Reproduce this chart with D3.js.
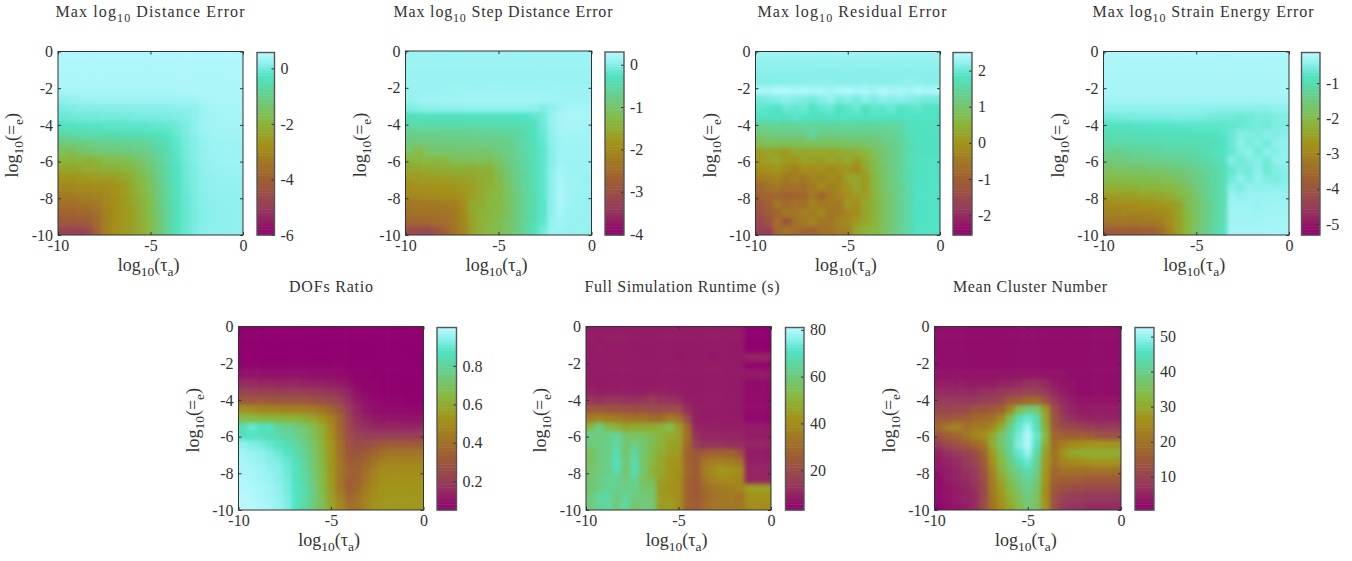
<!DOCTYPE html>
<meta charset="utf-8">
<style>
  body { margin: 0; background: #fff; }
  svg { display: block; font-family: 'Liberation Serif', serif; }
  .tick text { font-size: 16px; fill: #333; font-family: 'Liberation Serif', serif; }
  .tick line { stroke: #333; }
  .domain { display: none; }
  .title { font-size: 16px; fill: #333; }
  .lab { font-size: 18px; fill: #333; }
</style>
<script src="https://d3js.org/d3.v7.min.js"></script>
<div id="chart"></div>
<script>
// rows run from log10(e)=0 down to -10, columns from log10(tau)=-10 to 0
const tauCats = d3.range(21).map(i => -10 + i * 0.5);
const epsCats = d3.range(21).map(i => -i * 0.5);
const xTicks = [-10, -5, 0];
const yTicks = [0, -2, -4, -6, -8, -10];

const distanceError = [
[.5,.5,.5,.5,.5,.5,.5,.5,.5,.5,.5,.5,.5,.5,.5,.5,.5,.5,.5,.5,.5],
[.48,.48,.48,.48,.48,.48,.48,.48,.48,.48,.48,.48,.48,.48,.48,.48,.48,.48,.48,.48,.48],
[.47,.47,.47,.47,.47,.47,.47,.47,.47,.47,.47,.47,.47,.47,.47,.47,.47,.47,.47,.47,.47],
[.46,.46,.46,.46,.46,.46,.46,.46,.46,.46,.46,.46,.46,.46,.46,.46,.46,.46,.46,.46,.46],
[.4,.42,.43,.43,.44,.44,.44,.44,.44,.44,.44,.44,.44,.44,.45,.45,.46,.46,.46,.46,.46],
[.2,.25,.28,.3,.32,.33,.33,.34,.34,.34,.34,.34,.34,.34,.35,.38,.42,.44,.45,.45,.45],
[.05,.08,.1,.1,.1,.12,.12,.13,.14,.14,.15,.15,.15,.16,.18,.2,.33,.4,.42,.42,.42],
[-.08,-.05,-.04,-.03,-.02,0,0,0,.02,.02,.03,.03,.05,.08,.12,.2,.3,.38,.4,.4,.4],
[-.3,-.28,-.25,-.25,-.25,-.22,-.22,-.2,-.2,-.2,-.18,-.15,-.12,-.05,.05,.18,.3,.37,.38,.38,.38],
[-.7,-.65,-.6,-.55,-.55,-.5,-.5,-.48,-.45,-.45,-.4,-.35,-.25,-.12,.02,.15,.28,.35,.36,.36,.36],
[-1.2,-1.15,-1.1,-1.05,-1,-.95,-.95,-.9,-.9,-.85,-.75,-.6,-.4,-.18,0,.13,.25,.32,.33,.33,.33],
[-1.6,-1.7,-1.5,-1.4,-1.3,-1.3,-1.25,-1.2,-1.15,-1.1,-.95,-.75,-.5,-.22,-.02,.12,.23,.3,.32,.32,.32],
[-2,-2.1,-2,-2.1,-2,-1.8,-1.8,-1.7,-1.6,-1.4,-1.15,-.85,-.55,-.25,-.05,.1,.22,.28,.3,.3,.3],
[-2.3,-2.3,-2.3,-2.2,-2.2,-2.1,-2.1,-2,-1.9,-1.6,-1.3,-.95,-.6,-.28,-.06,.08,.2,.26,.28,.28,.28],
[-2.7,-2.7,-2.6,-2.6,-2.55,-2.5,-2.45,-2.35,-2.1,-1.8,-1.45,-1.05,-.65,-.3,-.08,.07,.18,.24,.26,.26,.26],
[-3,-3,-2.9,-2.9,-2.85,-2.8,-2.7,-2.5,-2.2,-1.9,-1.55,-1.1,-.7,-.32,-.1,.06,.16,.22,.24,.24,.24],
[-3.3,-3.3,-3.2,-3.2,-3.15,-3,-2.8,-2.55,-2.3,-2,-1.65,-1.15,-.72,-.35,-.12,.05,.15,.2,.22,.22,.22],
[-3.6,-3.6,-3.5,-3.5,-3.35,-3,-2.85,-2.6,-2.35,-2.05,-1.7,-1.2,-.75,-.38,-.13,.04,.14,.18,.2,.2,.2],
[-3.9,-3.9,-3.85,-3.8,-3.6,-3.1,-2.85,-2.6,-2.4,-2.1,-1.75,-1.25,-.78,-.4,-.14,.03,.13,.17,.2,.2,.2],
[-4.2,-4.2,-4.15,-4.1,-3.7,-3.15,-2.85,-2.6,-2.4,-2.15,-1.8,-1.3,-.8,-.4,-.14,.03,.14,.18,.2,.2,.2],
[-4.8,-4.85,-4.85,-4.6,-3.9,-3.15,-2.8,-2.55,-2.4,-2.15,-1.8,-1.3,-.8,-.4,-.12,.04,.15,.19,.2,.2,.2]];

const stepError = [
[.14,.14,.14,.14,.14,.14,.14,.14,.14,.14,.14,.14,.14,.14,.14,.14,.14,.14,.14,.14,.14],
[.13,.13,.13,.13,.13,.13,.13,.13,.13,.13,.13,.13,.13,.13,.13,.13,.13,.13,.13,.13,.13],
[.12,.12,.12,.12,.12,.12,.12,.12,.12,.12,.12,.12,.12,.12,.12,.12,.12,.12,.12,.12,.12],
[.12,.12,.12,.12,.12,.12,.12,.12,.12,.12,.12,.12,.12,.12,.12,.12,.12,.12,.12,.12,.12],
[.1,.11,.12,.12,.13,.13,.13,.13,.13,.14,.14,.14,.14,.14,.14,.14,.14,.14,.14,.14,.14],
[.1,.12,.15,.15,.16,.16,.17,.18,.18,.18,.18,.18,.18,.18,.18,.17,.15,.15,.14,.14,.14],
[-.02,.02,.05,.05,.06,.07,.07,.08,.08,.08,.08,.08,.08,.08,.06,-.02,.05,.14,.2,.2,.18],
[-.35,-.33,-.32,-.3,-.3,-.3,-.3,-.28,-.28,-.28,-.27,-.27,-.27,-.25,-.2,-.1,.1,.2,.22,.22,.2],
[-.5,-.5,-.5,-.5,-.48,-.48,-.48,-.48,-.46,-.46,-.46,-.45,-.42,-.38,-.3,-.12,.08,.18,.2,.2,.18],
[-.75,-.75,-.72,-.72,-.7,-.7,-.7,-.68,-.68,-.66,-.66,-.62,-.56,-.45,-.32,-.15,.05,.17,.18,.18,.16],
[-.9,-.9,-.88,-.85,-.85,-.85,-.82,-.82,-.8,-.8,-.78,-.72,-.62,-.48,-.34,-.18,.03,.15,.16,.16,.15],
[-1.05,-1.3,-1.05,-1,-1,-.98,-.98,-.95,-1.05,-.95,-.88,-.78,-.65,-.5,-.36,-.2,.02,.14,.15,.15,.14],
[-1.35,-1.35,-1.3,-1.35,-1.3,-1.2,-1.15,-1.15,-1.1,-1.2,-1,-.85,-.7,-.52,-.38,-.2,.02,.15,.14,.14,.13],
[-1.6,-1.6,-1.55,-1.5,-1.5,-1.45,-1.45,-1.5,-1.45,-1.45,-1.15,-.92,-.75,-.55,-.38,-.2,.03,.18,.14,.13,.13],
[-1.75,-1.75,-1.7,-1.7,-1.65,-1.65,-1.65,-1.6,-1.5,-1.5,-1.25,-1,-.78,-.58,-.4,-.2,.05,.2,.14,.13,.12],
[-1.95,-1.9,-1.9,-1.85,-1.85,-1.8,-1.75,-1.7,-1.55,-1.45,-1.3,-1.05,-.82,-.6,-.4,-.2,.05,.22,.15,.13,.12],
[-2.05,-2.05,-2,-2,-1.95,-1.95,-1.85,-1.7,-1.55,-1.4,-1.3,-1.08,-.85,-.62,-.42,-.22,.05,.24,.15,.12,.12],
[-2.3,-2.3,-2.25,-2.25,-2.2,-2.2,-1.95,-1.55,-1.5,-1.35,-1.3,-1.1,-.85,-.62,-.42,-.22,.05,.22,.14,.12,.12],
[-2.4,-2.4,-2.4,-2.35,-2.35,-2.25,-2.05,-1.6,-1.45,-1.35,-1.25,-1.1,-.85,-.62,-.42,-.22,.05,.2,.12,.12,.11],
[-2.6,-2.6,-2.55,-2.5,-2.45,-2.3,-2.05,-1.65,-1.45,-1.35,-1.2,-1.05,-.85,-.6,-.4,-.2,.08,.15,.11,.11,.1],
[-3.1,-3.15,-3.15,-2.95,-2.7,-2.4,-2.1,-1.65,-1.45,-1.3,-1.2,-1.05,-.85,-.6,-.35,-.1,.12,.12,.1,.1,.1]];

const residualError = [
[2.3,2.3,2.3,2.3,2.3,2.3,2.3,2.3,2.3,2.3,2.3,2.3,2.3,2.3,2.3,2.3,2.3,2.3,2.3,2.3,2.3],
[2.22,2.22,2.22,2.22,2.22,2.22,2.22,2.22,2.22,2.22,2.22,2.22,2.22,2.22,2.22,2.22,2.22,2.22,2.22,2.22,2.22],
[2.18,2.18,2.18,2.18,2.18,2.18,2.18,2.18,2.18,2.18,2.18,2.18,2.18,2.18,2.18,2.18,2.18,2.18,2.18,2.18,2.18],
[2.15,2.15,2.16,2.16,2.18,2.18,2.2,2.2,2.2,2.18,2.18,2.18,2.2,2.18,2.18,2.18,2.2,2.25,2.2,2.18,2.18],
[2.42,2.4,2.48,2.45,2.42,2.45,2.4,2.42,2.35,2.42,2.45,2.4,2.42,2.35,2.45,2.4,2.42,2.35,2.45,2.4,2.45],
[2.05,2.1,2.15,2.2,2.15,2.1,2.05,2.15,2.25,2.1,2.15,2.05,2.2,2.1,2.2,2.15,2.2,2.15,2.1,2.05,2.05],
[1.95,1.9,1.85,2,1.95,2,1.85,1.95,2,1.85,1.9,2,1.75,1.95,1.9,2,1.85,1.9,1.95,1.85,1.85],
[1.8,1.85,1.85,1.8,1.9,1.85,1.85,1.8,1.85,1.85,1.85,1.85,1.85,1.85,1.85,1.8,1.85,1.85,1.85,1.85,1.85],
[1.35,1.4,1.45,1.4,1.45,1.5,1.45,1.45,1.5,1.45,1.5,1.5,1.45,1.5,1.5,1.5,1.55,1.75,1.8,1.8,1.8],
[1.1,1.15,1.2,1.2,1.2,1.2,1.5,1.2,1.2,1.25,1.25,1.25,1.25,1.25,1.3,1.35,1.5,1.7,1.8,1.8,1.8],
[.75,.85,.85,.85,.85,.85,.9,.9,.9,.9,.95,.95,1,1.05,1.15,1.25,1.45,1.65,1.8,1.8,1.8],
[.15,.25,.2,.1,.35,.3,.3,.35,.3,.35,.4,.45,.6,.85,1.05,1.2,1.4,1.65,1.8,1.8,1.8],
[.05,.15,.3,.1,0,.2,.15,.1,.25,.15,.35,.1,.4,.7,1,1.2,1.4,1.65,1.8,1.85,1.85],
[-.15,-.05,0,-.2,-.35,-.1,-.15,-.05,-.2,-.05,0,-.2,.3,.65,.95,1.15,1.4,1.65,1.85,1.85,1.85],
[-.45,-.4,-.3,-.5,-.4,-.5,-.3,-.35,-.1,-.25,.2,.3,.1,.6,.95,1.15,1.4,1.65,1.85,1.85,1.85],
[-.85,-.65,-.5,-.7,-.65,-.75,-.5,-.1,-.45,-.2,0,.3,.1,.55,.9,1.15,1.35,1.65,1.85,1.85,1.85],
[-1,-.9,-.9,-.95,-.95,-.85,-.5,-.9,-.5,-.3,-.1,.1,.15,.5,.85,1.1,1.35,1.6,1.85,1.85,1.85],
[-1.2,-1,-.5,-.8,-.6,-.7,-.3,-.5,-.45,-.55,.1,-.1,.3,.5,.85,1.1,1.35,1.6,1.85,1.85,1.85],
[-1.35,-1.1,-.9,-.5,-.6,-.4,-.5,-.2,-.6,-.5,-.3,-.1,.25,.5,.85,1.1,1.35,1.6,1.85,1.85,1.85],
[-1.6,-1.3,-.7,-1.3,-.7,-.55,-.3,-.6,-.6,-.3,-.2,.1,.3,.5,.85,1.1,1.35,1.6,1.85,1.85,1.85],
[-1.7,-1.7,-.8,-.6,-.75,-.9,-1,-.7,-.65,-.45,-.4,.3,.5,.6,.85,1.1,1.35,1.6,1.85,1.85,1.85]];

const strainError = [
[-.2,-.2,-.2,-.2,-.2,-.2,-.2,-.2,-.2,-.2,-.2,-.2,-.2,-.2,-.2,-.2,-.2,-.2,-.2,-.2,-.2],
[-.22,-.22,-.22,-.22,-.22,-.22,-.22,-.22,-.22,-.22,-.22,-.22,-.22,-.22,-.22,-.22,-.22,-.22,-.22,-.22,-.22],
[-.23,-.23,-.23,-.23,-.23,-.23,-.23,-.23,-.23,-.23,-.23,-.23,-.23,-.23,-.23,-.23,-.23,-.23,-.23,-.23,-.23],
[-.24,-.24,-.24,-.24,-.24,-.24,-.24,-.24,-.24,-.24,-.24,-.24,-.24,-.24,-.24,-.24,-.24,-.24,-.24,-.24,-.24],
[-.25,-.25,-.25,-.25,-.25,-.25,-.25,-.25,-.25,-.25,-.25,-.25,-.25,-.25,-.25,-.25,-.25,-.25,-.25,-.25,-.25],
[-.29,-.29,-.28,-.28,-.28,-.28,-.28,-.28,-.28,-.28,-.28,-.28,-.28,-.28,-.28,-.28,-.28,-.28,-.28,-.28,-.28],
[-.42,-.42,-.4,-.42,-.42,-.4,-.42,-.4,-.42,-.42,-.42,-.44,-.44,-.45,-.45,-.45,-.46,-.45,-.45,-.42,-.42],
[-.6,-.58,-.56,-.56,-.54,-.54,-.54,-.54,-.52,-.52,-.52,-.55,-.58,-.6,-.62,-.64,-.62,-.55,-.58,-.52,-.5],
[-.82,-.8,-.8,-.78,-.78,-.76,-.76,-.76,-.76,-.74,-.74,-.74,-.74,-.72,-.7,-.65,-.6,-.58,-.62,-.52,-.52],
[-.98,-.95,-.95,-.95,-.93,-.92,-.92,-.9,-.9,-.88,-.86,-.85,-.82,-.78,-.65,-.5,-.52,-.55,-.46,-.52,-.46],
[-1.1,-1.08,-1.08,-1.06,-1.05,-1.04,-1.02,-1,-1,-.98,-.96,-.92,-.95,-.82,-.65,-.42,-.58,-.48,-.6,-.42,-.42],
[-1.3,-1.42,-1.3,-1.25,-1.25,-1.2,-1.2,-1.15,-1.15,-1.1,-1.05,-1,-.9,-.8,-.68,-.5,-.42,-.62,-.45,-.5,-.42],
[-1.55,-1.5,-1.5,-1.45,-1.45,-1.4,-1.4,-1.35,-1.3,-1.25,-1.2,-1.1,-1,-.9,-.5,-.62,-.52,-.48,-.62,-.4,-.42],
[-1.8,-1.75,-1.75,-1.7,-1.7,-1.65,-1.65,-1.6,-1.55,-1.45,-1.35,-1.25,-1.1,-.95,-.68,-.55,-.6,-.45,-.65,-.5,-.46],
[-2,-2,-1.95,-1.95,-1.9,-1.9,-1.85,-1.8,-1.75,-1.6,-1.45,-1.3,-1.12,-1,-.62,-.42,-.55,-.4,-.52,-.55,-.48],
[-2.25,-2.25,-2.2,-2.2,-2.15,-2.15,-2.1,-2.05,-1.95,-1.75,-1.55,-1.35,-1.15,-1,-.48,-.55,-.4,-.45,-.42,-.45,-.45],
[-2.55,-2.55,-2.5,-2.5,-2.45,-2.45,-2.4,-2.3,-2.1,-1.95,-1.65,-1.4,-1.2,-1,-.35,-.42,-.36,-.34,-.38,-.35,-.38],
[-2.85,-2.85,-2.8,-2.8,-2.75,-2.7,-2.65,-2.6,-2.5,-1.9,-1.75,-1.45,-1.2,-1,-.32,-.32,-.32,-.36,-.32,-.32,-.32],
[-3.05,-3.05,-3,-3,-3,-2.95,-2.9,-2.75,-2.45,-2.05,-1.7,-1.45,-1.2,-1,-.3,-.3,-.3,-.32,-.3,-.3,-.3],
[-3.3,-3.3,-3.25,-3.25,-3.2,-3.2,-3.15,-2.8,-2.5,-2.1,-1.75,-1.45,-1.15,-1,-.28,-.28,-.28,-.28,-.28,-.28,-.28],
[-3.85,-3.85,-3.8,-3.8,-3.75,-3.7,-3.5,-3,-2.55,-2.1,-1.7,-1.45,-1.15,-.9,-.26,-.26,-.26,-.26,-.26,-.26,-.26]];

const dofsRatio = [
[.05,.05,.05,.05,.05,.05,.05,.05,.05,.05,.05,.05,.05,.05,.05,.05,.05,.05,.05,.05,.05],
[.05,.05,.05,.05,.05,.05,.05,.05,.05,.05,.05,.05,.05,.05,.05,.05,.05,.05,.05,.05,.05],
[.05,.05,.05,.05,.05,.05,.05,.05,.05,.05,.05,.05,.05,.05,.05,.05,.05,.05,.05,.05,.05],
[.05,.05,.05,.05,.05,.05,.05,.05,.05,.05,.05,.05,.05,.05,.05,.05,.05,.05,.05,.05,.05],
[.06,.06,.06,.06,.06,.06,.06,.06,.06,.06,.06,.06,.05,.05,.05,.05,.05,.05,.05,.05,.05],
[.09,.09,.09,.09,.09,.09,.09,.09,.08,.08,.08,.07,.07,.06,.06,.05,.05,.05,.05,.05,.05],
[.15,.15,.14,.15,.14,.14,.14,.13,.13,.13,.12,.11,.09,.07,.06,.06,.05,.05,.05,.05,.05],
[.23,.22,.21,.22,.21,.2,.21,.2,.2,.19,.18,.16,.13,.09,.07,.06,.05,.05,.05,.05,.05],
[.31,.3,.32,.31,.3,.3,.29,.3,.28,.27,.25,.22,.16,.11,.09,.07,.06,.06,.06,.05,.05],
[.52,.5,.48,.48,.47,.46,.46,.45,.44,.41,.36,.29,.2,.14,.1,.08,.07,.07,.07,.07,.07],
[.66,.65,.64,.63,.63,.62,.62,.6,.58,.53,.46,.36,.23,.16,.13,.11,.1,.1,.1,.1,.1],
[.85,.9,.87,.88,.8,.78,.76,.72,.67,.6,.5,.37,.25,.18,.16,.14,.14,.14,.14,.14,.14],
[.87,.87,.86,.85,.83,.81,.78,.74,.69,.61,.52,.38,.27,.22,.2,.2,.2,.2,.2,.2,.2],
[.95,.93,.92,.9,.88,.85,.82,.77,.71,.62,.53,.4,.3,.26,.27,.29,.31,.32,.32,.32,.32],
[.97,.96,.95,.93,.91,.88,.84,.79,.72,.63,.54,.41,.3,.29,.33,.37,.4,.42,.42,.42,.42],
[.98,.97,.96,.94,.93,.9,.86,.8,.73,.64,.54,.42,.32,.33,.37,.42,.46,.47,.47,.47,.47],
[.98,.98,.97,.95,.94,.91,.87,.81,.74,.65,.54,.43,.34,.34,.4,.46,.5,.5,.5,.5,.5],
[.99,.98,.97,.96,.94,.92,.87,.82,.75,.65,.55,.43,.33,.35,.42,.48,.51,.52,.52,.52,.52],
[.99,.99,.98,.97,.95,.92,.88,.83,.76,.66,.55,.43,.33,.37,.45,.5,.53,.53,.53,.53,.53],
[1,.99,.98,.97,.95,.93,.88,.83,.76,.67,.57,.46,.37,.4,.47,.51,.53,.54,.54,.54,.54],
[1,1,.99,.98,.96,.93,.88,.82,.75,.68,.58,.5,.4,.42,.48,.52,.54,.54,.54,.54,.54]];

const runtime = [
[8,8,8,8,8,8,8,8,8,8,8,8,8,8,8,8,8,8,3,3,3],
[9,8,9,9,9,8,8,8,8,8,8,8,8,8,8,8,8,8,3,3,3],
[8,9,8,8,8,8,8,8,8,8,8,8,8,8,8,8,8,8,3,3,3],
[8,8,8,8,8,8,8,8,8,8,7,8,8,8,7,8,8,8,10,10,10],
[8,8,8,8,8,8,8,8,8,8,8,8,8,8,8,8,8,8,4,4,4],
[8,8,8,8,8,8,8,8,8,8,8,8,8,8,8,8,8,8,8,8,8],
[8,8,8,8,8,8,8,8,8,8,8,8,8,8,8,8,8,8,5,5,5],
[10,9,9,9,9,9,9,10,10,9,9,8,8,8,8,8,8,8,5,5,5],
[14,13,14,14,13,13,14,16,13,13,12,9,8,8,8,8,8,8,5,5,5],
[24,24,23,23,22,21,22,20,20,20,20,12,9,8,8,8,8,8,5,5,5],
[36,38,36,35,33,32,33,31,30,36,32,20,9,8,8,8,8,8,4,4,4],
[52,62,52,50,46,48,48,48,50,54,45,30,10,9,9,9,9,9,8,8,8],
[62,60,62,65,58,56,56,54,50,48,46,32,13,10,10,10,10,10,8,8,8],
[60,61,62,66,58,62,58,54,50,46,45,30,16,13,13,13,12,12,10,10,10],
[56,60,62,68,58,66,58,53,48,45,44,28,24,26,28,28,28,22,8,8,8],
[56,60,62,70,58,67,58,52,47,43,42,28,25,34,36,37,36,33,9,9,9],
[58,60,62,68,58,68,58,50,47,43,41,30,25,36,40,44,42,40,10,10,10],
[58,61,64,63,60,64,56,54,45,43,41,28,25,33,38,40,40,38,10,10,10],
[58,61,64,63,62,62,58,58,44,42,41,28,24,30,33,36,37,38,45,45,45],
[60,66,66,60,64,61,59,58,44,43,41,28,25,29,32,34,35,32,42,42,42],
[60,64,66,60,66,58,60,60,44,45,41,28,26,30,33,33,34,34,40,40,40]];

const clusterNumber = [
[2,2,2,2,2,2,2,2,2,2,2,2,2,2,2,2,2,2,2,2,2],
[2,2,2,2,2,2,2,2,2,2,2,2,2,2,2,2,2,2,2,2,2],
[2,2,2,2,2,2,2,2,2,2,2,2,2,2,2,2,2,2,2,2,2],
[2,2,2,2,2,2,2,2,2,2,2,2,2,2,2,2,2,2,2,2,2],
[2,2,2,2,2,2,2,2,2,2,2,2,2,2,2,2,2,2,2,2,2],
[3,3,3,3,3,3,3,3,3,3,3,3,3,3,3,2,2,2,2,2,2],
[4,4,4,4,4,4,4,5,5,6,7,7,6,4,3,3,2,2,2,2,2],
[6,6,6,6,6,7,7,8,9,9,10,10,8,6,4,3,2,2,2,2,2],
[8,8,8,8,8,9,10,11,15,16,18,19,14,8,6,4,3,3,3,3,3],
[10,10,11,11,14,14,15,17,24,34,38,38,28,12,7,5,4,4,4,4,4],
[15,14,15,16,18,19,20,25,35,44,47,44,30,14,9,7,6,5,5,5,5],
[18,22,24,20,22,22,25,31,40,47,50,45,31,15,12,11,10,9,8,8,8],
[14,16,17,20,24,26,30,37,42,48,52,47,33,18,16,16,16,15,14,13,13],
[8,11,13,15,18,21,31,37,42,49,52,46,31,19,23,25,26,27,27,27,27],
[5,7,8,10,12,17,28,35,41,47,50,43,29,20,27,30,31,31,31,31,31],
[4,5,6,8,10,15,26,33,39,44,47,41,28,20,24,25,26,27,27,27,27],
[3,4,5,7,8,13,24,32,37,41,44,40,27,18,20,20,20,20,20,20,20],
[2,4,5,6,8,12,23,30,35,39,42,38,27,17,16,16,16,15,15,15,15],
[2,3,4,5,7,11,22,28,33,37,40,37,26,15,13,12,12,11,11,11,11],
[2,3,4,5,6,11,21,27,32,35,39,36,26,13,10,9,9,8,8,8,8],
[1,2,3,4,6,12,20,26,30,34,38,36,27,13,8,7,7,6,6,6,6]];

// colorbar limits
const distanceDomain = [-6, 0.57], stepDomain = [-4.02, 0.3], residualDomain = [-2.55, 2.5],
      strainDomain = [-5.31, -0.13], dofsDomain = [0.05, 1], runtimeDomain = [3, 81], clusterDomain = [0.5, 52.6];

const colorStops = [[0, "#90006f"], [.15, "#963c5a"], [.32, "#a0632e"], [.5, "#a39218"], [.62, "#88b83e"],
                    [.74, "#6dcb80"], [.87, "#4fe3c2"], [.94, "#8cf0ec"], [1, "#b8f8fe"]];
const cmap = d3.scaleLinear().domain(colorStops.map(d => d[0])).range(colorStops.map(d => d[1])).clamp(true);

const panels = [
  {title: ["Max log", "10", " Distance Error"], tw: 189, tx: 150, x0: 58, x1: 243, y0: 51.5, y1: 235, c0: 257, c1: 274.5, grid: distanceError, dom: distanceDomain, ticks: [0, -2, -4, -6]},
  {title: ["Max log", "10", " Step Distance Error"], tw: 219, tx: 503, x0: 405.5, x1: 591.5, y0: 51, y1: 235, c0: 605, c1: 624, grid: stepError, dom: stepDomain, ticks: [0, -1, -2, -3, -4]},
  {title: ["Max log", "10", " Residual Error"], tw: 189, tx: 852, x0: 755.5, x1: 940, y0: 51.5, y1: 235, c0: 953, c1: 972, grid: residualError, dom: residualDomain, ticks: [2, 1, 0, -1, -2]},
  {title: ["Max log", "10", " Strain Energy Error"], tw: 221, tx: 1203, x0: 1103.5, x1: 1289, y0: 51.5, y1: 235, c0: 1301.5, c1: 1320, grid: strainError, dom: strainDomain, ticks: [-1, -2, -3, -4, -5]},
  {title: ["DOFs Ratio"], tw: 84, tx: 331, x0: 238.5, x1: 423.5, y0: 326.5, y1: 510, c0: 437, c1: 456.5, grid: dofsRatio, dom: dofsDomain, ticks: [.8, .6, .4, .2]},
  {title: ["Full Simulation Runtime (s)"], tw: 195, tx: 682, x0: 586, x1: 771, y0: 326.5, y1: 510, c0: 785.5, c1: 804, grid: runtime, dom: runtimeDomain, ticks: [80, 60, 40, 20]},
  {title: ["Mean Cluster Number"], tw: 154, tx: 1030, x0: 934.5, x1: 1121, y0: 326.5, y1: 510, c0: 1135, c1: 1154, grid: clusterNumber, dom: clusterDomain, ticks: [50, 40, 30, 20, 10]}
];

const svg = d3.select("#chart").append("svg").attr("width", 1352).attr("height", 561);

// the picture is soft, blur the cells a bit
svg.append("defs").append("filter").attr("id", "soft")
    .attr("x", "-10%").attr("y", "-10%").attr("width", "120%").attr("height", "120%")
    .attr("color-interpolation-filters", "sRGB")
  .append("feGaussianBlur").attr("stdDeviation", 2.2);

// subscripted text helper
function addSub(sel, parts) {
  parts.forEach((p, i) => {
    const t = sel.append("tspan").text(p);
    if (i % 2 == 1) t.attr("dy", 5).style("font-size", "0.75em");
    else if (i > 0) t.attr("dy", -5);
  });
}

panels.forEach((p, k) => {
  const x = d3.scaleLinear().domain([-10, 0]).range([p.x0, p.x1]);
  const y = d3.scaleLinear().domain([0, -10]).range([p.y0, p.y1]);
  const bx = d3.scaleBand().domain(tauCats).range([p.x0, p.x1]);
  const by = d3.scaleBand().domain(epsCats).range([p.y0, p.y1]);
  const g = svg.append("g");

  // norm then colormap
  const norm = d3.scaleLinear().domain(p.dom).range([0, 1]);

  g.append("clipPath").attr("id", "plot" + k).append("rect")
    .attr("x", p.x0).attr("y", p.y0).attr("width", p.x1 - p.x0).attr("height", p.y1 - p.y0);
  const cells = g.append("g").attr("clip-path", `url(#plot${k})`).append("g").attr("filter", "url(#soft)");

  // edge cells run past the box so the blur does not fade at the border
  const pad = 12;
  epsCats.forEach((e, i) => {
    cells.selectAll(null).data(tauCats).enter().append("rect")
      .attr("x", (t, j) => bx(t) - (j == 0 ? pad : 0))
      .attr("y", by(e) - (i == 0 ? pad : 0))
      .attr("width", (t, j) => bx.bandwidth() + 0.5 + (j == 0 || j == 20 ? pad : 0))
      .attr("height", by.bandwidth() + 0.5 + (i == 0 || i == 20 ? pad : 0))
      .attr("fill", (t, j) => cmap(norm(p.grid[i][j])));
  });

  // axes, with the little inward ticks on all four sides
  g.append("g").attr("transform", `translate(0,${p.y1})`)
    .call(d3.axisBottom(x).tickValues(xTicks).tickSizeInner(-3).tickSizeOuter(0).tickPadding(5).tickFormat(d3.format("d")));
  g.append("g").attr("transform", `translate(${p.x0},0)`)
    .call(d3.axisLeft(y).tickValues(yTicks).tickSizeInner(-3).tickSizeOuter(0).tickPadding(5).tickFormat(d3.format("d")));
  g.append("g").attr("transform", `translate(0,${p.y0})`)
    .call(d3.axisTop(x).tickValues(xTicks).tickSizeInner(-3).tickSizeOuter(0).tickFormat(""));
  g.append("g").attr("transform", `translate(${p.x1},0)`)
    .call(d3.axisRight(y).tickValues(yTicks).tickSizeInner(-3).tickSizeOuter(0).tickFormat(""));
  g.selectAll(".tick text").text(function() { return this.textContent.replace("\u2212", "-"); });
  g.append("rect").attr("x", p.x0).attr("y", p.y0).attr("width", p.x1 - p.x0).attr("height", p.y1 - p.y0)
    .attr("fill", "none").attr("stroke", "#333").attr("stroke-width", 1);

  // colorbar
  const cy = d3.scaleLinear().domain(p.dom).range([p.y1, p.y0 + 1]);
  const steps = d3.range(64).map(i => p.dom[0] + (p.dom[1] - p.dom[0]) * (i + 0.5) / 64);
  const bh = (p.y1 - p.y0 - 1) / 64;
  g.selectAll(null).data(steps).enter().append("rect")
    .attr("x", p.c0).attr("width", p.c1 - p.c0)
    .attr("y", d => cy(d) - bh / 2).attr("height", bh + 0.5)
    .attr("fill", d => cmap(norm(d)));
  g.append("g").attr("transform", `translate(${p.c1},0)`)
    .call(d3.axisRight(cy).tickValues(p.ticks).tickSizeInner(-3).tickSizeOuter(0).tickPadding(6).tickFormat(d => Number.isInteger(d) ? d : d.toFixed(1)));
  g.append("rect").attr("x", p.c0).attr("y", p.y0 + 1).attr("width", p.c1 - p.c0).attr("height", p.y1 - p.y0 - 1)
    .attr("fill", "none").attr("stroke", "#555").attr("stroke-width", 1.4);

  // title and axis labels
  g.append("text").attr("class", "title").attr("x", p.tx).attr("y", p.y0 - 34.5).attr("text-anchor", "middle")
    .attr("textLength", p.tw).attr("lengthAdjust", "spacing").call(addSub, p.title);
  g.append("text").attr("class", "lab").attr("x", (p.x0 + p.x1) / 2 - 2).attr("y", p.y1 + 35.5).attr("text-anchor", "middle")
    .call(addSub, ["log", "10", "(\u03C4", "a", ")"]);
  g.append("text").attr("class", "lab").attr("text-anchor", "middle")
    .attr("transform", `translate(${p.x0 - 40},${(p.y0 + p.y1) / 2 + 2}) rotate(-90)`)
    .call(addSub, ["log", "10", "(=", "e", ")"]);
});
</script>
